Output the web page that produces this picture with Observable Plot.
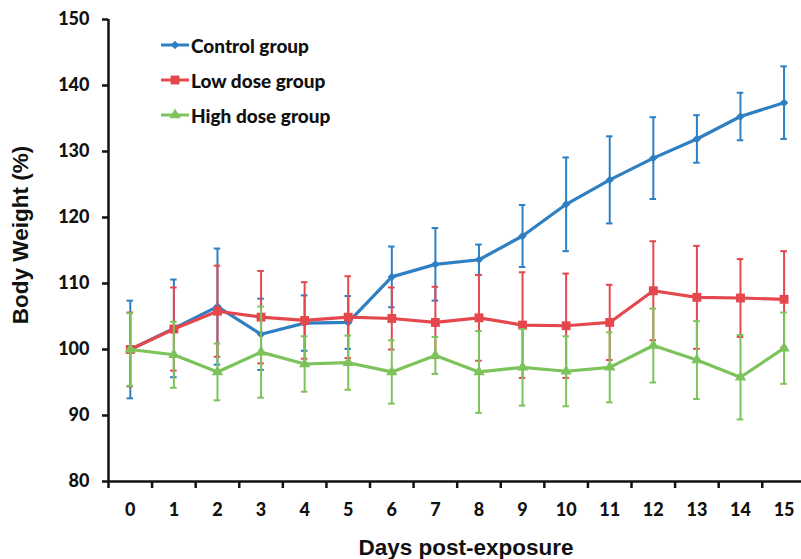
<!DOCTYPE html>
<html>
<head>
<meta charset="utf-8">
<script src="https://cdn.jsdelivr.net/npm/d3@7"></script>
<script src="https://cdn.jsdelivr.net/npm/@observablehq/plot@0.6"></script>
<style>
  html, body { margin: 0; padding: 0; background: #fff; }
  #wrap { position: relative; width: 801px; height: 559px; overflow: hidden; }
  #chart svg { display: block; }
  .ytitle { position: absolute; left: 21px; top: 235px; transform: translate(-50%, -50%) rotate(-90deg);
    font-family: "Liberation Sans", Arial, sans-serif; font-weight: bold; font-size: 22.5px; white-space: nowrap; color: #111; }
  .xtitle { position: absolute; left: 466px; top: 548px; transform: translate(-50%, -50%);
    font-family: "Liberation Sans", Arial, sans-serif; font-weight: bold; font-size: 22.5px; white-space: nowrap; color: #111; }
  .legend { position: absolute; left: 161px; top: 33px; font-family: Lato, "Open Sans", sans-serif; font-weight: 900; font-size: 19px; color: #111; }
  .legend .row { display: flex; align-items: center; height: 24px; margin-bottom: 11px; }
  .legend svg { margin-right: 2px; }
</style>
</head>
<body>
<div id="wrap">
  <div id="chart"></div>
  <div class="ytitle">Body Weight (%)</div>
  <div class="xtitle">Days post-exposure</div>
  <div class="legend" id="legend"></div>
</div>
<script>
const days = [0, 1, 2, 3, 4, 5, 6, 7, 8, 9, 10, 11, 12, 13, 14, 15];
const yTicks = [80, 90, 100, 110, 120, 130, 140, 150];
const seriesNames = ["Control group", "Low dose group", "High dose group"];
const seriesColors = ["#2f7fc3", "#e4484d", "#7dc35b"];
const seriesSymbols = ["diamond2", "square", "triangle"];
const seriesR = [3.8, 5.0, 4.2];

const controlMean = [100, 103.2, 106.5, 102.3, 104.0, 104.1, 111.0, 112.9, 113.6, 117.2, 122.0, 125.7, 129.0, 131.9, 135.3, 137.4];
const controlErr  = [7.4, 7.4, 8.8, 5.4, 4.2, 4.0, 4.6, 5.5, 2.3, 4.7, 7.1, 6.6, 6.2, 3.6, 3.6, 5.5];
const lowMean     = [100, 103.1, 105.8, 104.9, 104.4, 104.9, 104.7, 104.1, 104.8, 103.7, 103.6, 104.1, 108.9, 107.9, 107.8, 107.6];
const lowErr      = [5.6, 6.3, 6.9, 7.0, 5.8, 6.2, 4.7, 5.4, 6.5, 8.0, 7.9, 5.7, 7.5, 7.8, 5.9, 7.3];
const highMean    = [100, 99.2, 96.6, 99.6, 97.8, 98.0, 96.6, 99.1, 96.6, 97.3, 96.7, 97.3, 100.6, 98.4, 95.8, 100.2];
const highErr     = [5.5, 5.0, 4.3, 6.9, 4.2, 4.1, 4.8, 2.8, 6.2, 5.8, 5.3, 5.3, 5.6, 5.9, 6.4, 5.4];

const means = [controlMean, lowMean, highMean];
const errs = [controlErr, lowErr, highErr];

const tables = seriesNames.map((name, i) =>
  days.map((day, j) => ({series: name, day, v: means[i][j], e: errs[i][j]}))
);

const capHalf = 0.075;
const seriesMarks = tables.flatMap((t, i) => {
  const c = seriesColors[i];
  return [
    Plot.ruleX(t, {x: "day", y1: d => d.v - d.e, y2: d => d.v + d.e, stroke: c, strokeWidth: 2}),
    Plot.ruleY(t, {y: d => d.v + d.e, x1: d => d.day - capHalf, x2: d => d.day + capHalf, stroke: c, strokeWidth: 2}),
    Plot.ruleY(t, {y: d => d.v - d.e, x1: d => d.day - capHalf, x2: d => d.day + capHalf, stroke: c, strokeWidth: 2}),
    Plot.line(t, {x: "day", y: "v", stroke: c, strokeWidth: 3.2}),
    Plot.dot(t, {x: "day", y: "v", fill: c, stroke: "none", symbol: seriesSymbols[i], r: seriesR[i]})
  ];
});

const halfTicks = [days[0] - 0.5, ...days.map(d => d + 0.5)];

const chart = Plot.plot({
  width: 801,
  height: 559,
  marginLeft: 108,
  marginRight: 0,
  marginTop: 19,
  marginBottom: 78,
  style: {fontFamily: "Lato, 'Open Sans', sans-serif", color: "#111", background: "#fff"},
  x: {type: "linear", domain: [-0.5, 15.4]},
  y: {domain: [80, 150]},
  marks: [
    Plot.axisY({ticks: yTicks, tickSize: 6, tickPadding: 13, fontSize: 18, fontWeight: 900, strokeWidth: 2.5, stroke: "#111", label: null}),
    Plot.axisX({ticks: days, tickSize: 0, tickPadding: 22, fontSize: 18, fontWeight: 900, label: null, tickFormat: d => String(d)}),
    Plot.axisX({ticks: halfTicks, tickSize: 7, tickFormat: () => "", strokeWidth: 2.5, stroke: "#111", label: null}),
    Plot.ruleX([-0.5], {stroke: "#111", strokeWidth: 2.5}),
    Plot.ruleY([80], {stroke: "#111", strokeWidth: 2.5}),
    ...seriesMarks
  ]
});
document.getElementById("chart").appendChild(chart);

// Legend
const legend = document.getElementById("legend");
seriesNames.forEach((name, i) => {
  const row = document.createElement("div");
  row.className = "row";
  const sw = d3.create("svg").attr("width", 28).attr("height", 14);
  sw.append("line").attr("x1", 0).attr("x2", 28).attr("y1", 7).attr("y2", 7)
    .attr("stroke", seriesColors[i]).attr("stroke-width", 3);
  const symMap = {diamond2: d3.symbolDiamond2, square: d3.symbolSquare, triangle: d3.symbolTriangle};
  sw.append("path").attr("transform", "translate(14,7)")
    .attr("d", d3.symbol(symMap[seriesSymbols[i]], Math.PI * seriesR[i] * seriesR[i])())
    .attr("fill", seriesColors[i]);
  row.appendChild(sw.node());
  const span = document.createElement("span");
  span.textContent = name;
  row.appendChild(span);
  legend.appendChild(row);
});
</script>
</body>
</html>
